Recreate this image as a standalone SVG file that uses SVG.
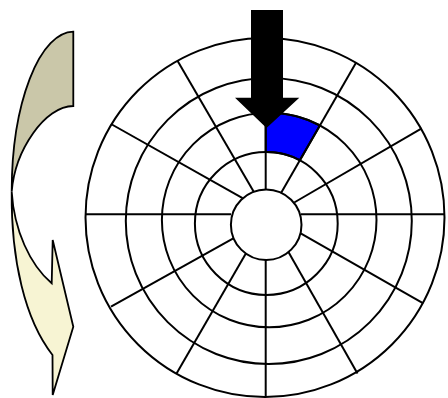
<svg xmlns="http://www.w3.org/2000/svg" width="448" height="398" viewBox="0 0 448 398">
<style>
.g{fill:none;stroke:#000;stroke-width:2}
.ln{stroke:#000;stroke-width:2;stroke-linecap:butt}
.ca{stroke:#000;stroke-width:1.8;stroke-linejoin:miter}
</style>
<rect width="448" height="398" fill="#fff"/>
<g id="rotation-arrow">
<path class="ca" fill="#CAC7A9" d="M73.3,31.7 L73.3,106 C45,106 15,150 11.7,191.7 A62,160 0 0 1 73.3,31.7 Z"/>
<path class="ca" fill="#F7F4D3" d="M11.7,191.7 C11,260 25,320 52.5,355 L52.7,395 L73.3,326.7 L52.7,240 L51.7,283.3 C30,265 14,230 11.7,191.7 Z"/>
</g>
<g id="disk">
<circle cx="265" cy="217.5" r="179.5" fill="#fff" stroke="none"/>
<path id="sector" d="M265.7,112.8 A107.3,107.3 0 0 1 319.9,125.5 L299.8,160.3 A71.4,71.4 0 0 0 265.7,152.1 Z" fill="#0000FF" stroke="#000" stroke-width="2"/>
<circle class="g" cx="265" cy="217.5" r="179.5"/>
<circle class="g" cx="268.8" cy="221" r="143"/>
<circle class="g" cx="269.2" cy="220" r="107.3"/>
<circle class="g" cx="266.3" cy="223.5" r="71.4"/>
<circle class="g" cx="266.2" cy="224.7" r="35.3"/>
<g id="sectors">
<line class="ln" x1="265.7" y1="38" x2="265.7" y2="189.4"/>
<line class="ln" x1="265.7" y1="260" x2="265.7" y2="397"/>
<line class="ln" x1="85.5" y1="214.3" x2="231" y2="214.3"/>
<line class="ln" x1="301" y1="214.3" x2="444.5" y2="214.3"/>
<line class="ln" x1="177.5" y1="60.8" x2="253.9" y2="192"/>
<line class="ln" x1="356" y1="62.7" x2="280.9" y2="193.2"/>
<line class="ln" x1="111" y1="124" x2="242.6" y2="198.2"/>
<line class="ln" x1="421.7" y1="128.3" x2="294.2" y2="202.5"/>
<line class="ln" x1="111" y1="306.7" x2="233.3" y2="238.3"/>
<line class="ln" x1="423.3" y1="303.3" x2="300.7" y2="233.3"/>
<line class="ln" x1="176.7" y1="373.3" x2="246" y2="253.3"/>
<line class="ln" x1="357.5" y1="373.5" x2="288.3" y2="251.7"/>
</g>
</g>
<g id="head-arrow">
<polygon points="251,10 283,10 283,97.7 299.3,97.7 266.5,128 235,97.7 251,97.7" fill="#000"/>
</g>
</svg>
